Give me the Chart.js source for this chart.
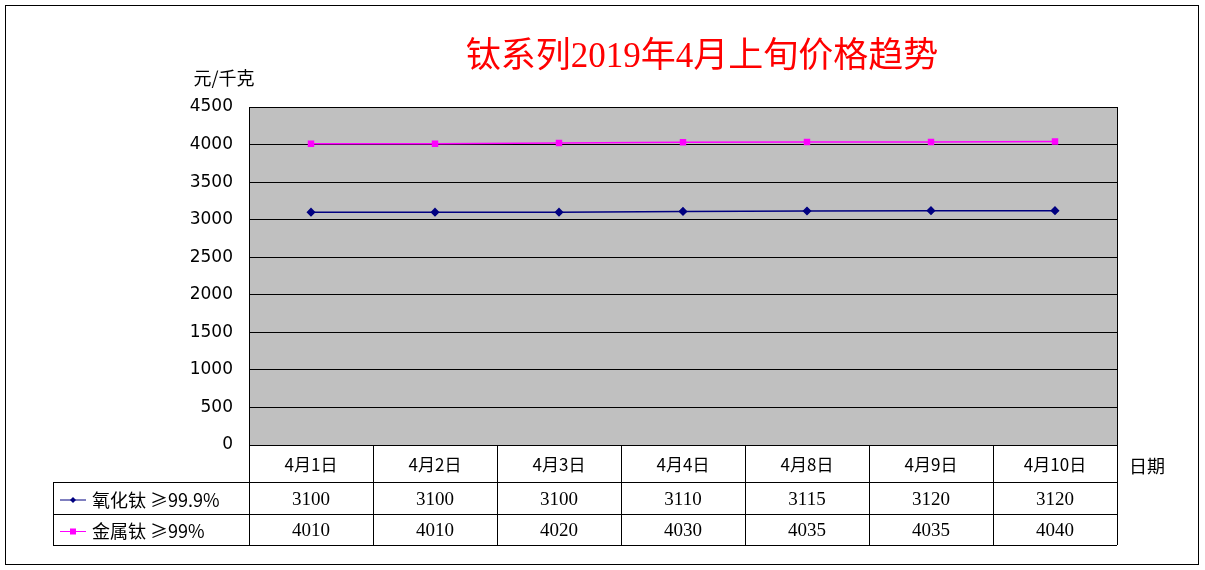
<!DOCTYPE html>
<html>
<head>
<meta charset="utf-8">
<script src="https://cdn.jsdelivr.net/npm/chart.js@4"></script>
<style>
  body { margin: 0; background: #fff; }
  #wrap { width: 1205px; height: 570px; position: relative; }
</style>
</head>
<body>
<div id="wrap"><canvas id="chart" width="1205" height="570"></canvas></div>
<script>
// data
var categories = ['4月1日', '4月2日', '4月3日', '4月4日', '4月8日', '4月9日', '4月10日']
var seriesNames = ['氧化钛 ≥99.9%', '金属钛 ≥99%']
var oxideValues = [3100, 3100, 3100, 3110, 3115, 3120, 3120]
var metalValues = [4010, 4010, 4020, 4030, 4035, 4035, 4040]
var seriesColors = ['#000080', '#FF00FF']

var tableFont = '19px "Liberation Serif", serif'

// draws background, frame, title and the data table
var decor = {
  id: 'decor',
  beforeDraw: function (chart) {
    var ctx = chart.ctx, a = chart.chartArea
    ctx.save()
    ctx.fillStyle = '#fff'
    ctx.fillRect(0, 0, chart.width, chart.height)
    ctx.fillStyle = '#C0C0C0'
    ctx.fillRect(a.left, a.top, a.right - a.left, a.bottom - a.top)
    ctx.restore()
  },
  afterDraw: function (chart) {
    var ctx = chart.ctx, a = chart.chartArea, x = chart.scales.x
    ctx.save()
    ctx.strokeStyle = '#000'
    ctx.lineWidth = 1
    ctx.strokeRect(5.5, 5.5, 1193, 559)
    ctx.strokeRect(a.left + 0.5, a.top + 0.5, a.right - a.left, a.bottom - a.top)

    // title
    ctx.fillStyle = '#FF0000'
    ctx.font = '35px "Liberation Serif", "Noto Sans CJK SC", serif'
    ctx.textAlign = 'center'
    ctx.textBaseline = 'middle'
    ctx.fillText('钛系列2019年4月上旬价格趋势', 702, 58)

    ctx.fillStyle = '#000'
    ctx.font = '18px "Noto Sans CJK SC", sans-serif'
    ctx.fillText('元/千克', 224, 78)
    ctx.fillText('日期', 1147, 466)

    // table grid
    var rows = [a.bottom, 482, 514, 545]
    var left = 53
    var step = (a.right - a.left) / categories.length
    ctx.beginPath()
    for (var r = 1; r < rows.length; r++) {
      ctx.moveTo(left, rows[r] + 0.5); ctx.lineTo(a.right, rows[r] + 0.5)
    }
    ctx.moveTo(left + 0.5, rows[1]); ctx.lineTo(left + 0.5, rows[3])
    for (var i = 0; i <= categories.length; i++) {
      var gx = Math.round(a.left + i * step) + 0.5
      ctx.moveTo(gx, rows[0]); ctx.lineTo(gx, rows[3])
    }
    ctx.stroke()

    var series = [oxideValues, metalValues]
    ctx.font = '17px "Noto Sans CJK SC", sans-serif'
    categories.forEach(function (c, i) {
      ctx.fillText(c, x.getPixelForValue(i), (rows[0] + rows[1]) / 2 + 1)
    })
    ctx.font = tableFont
    series.forEach(function (vals, s) {
      var cy = (rows[s + 1] + rows[s + 2]) / 2 + 2
      vals.forEach(function (v, i) {
        ctx.fillText(String(v), x.getPixelForValue(i), cy)
      })
      // legend key
      ctx.strokeStyle = seriesColors[s]
      ctx.fillStyle = seriesColors[s]
      ctx.beginPath(); ctx.moveTo(60, cy); ctx.lineTo(86, cy); ctx.stroke()
      if (s === 0) {
        ctx.beginPath(); ctx.moveTo(73, cy - 3); ctx.lineTo(76, cy); ctx.lineTo(73, cy + 3); ctx.lineTo(70, cy); ctx.closePath(); ctx.fill()
      } else {
        ctx.fillRect(70, cy - 3, 6, 6)
      }
      ctx.fillStyle = '#000'
      ctx.textAlign = 'left'
      ctx.font = '18px "Noto Sans CJK SC", sans-serif'
      ctx.fillText(seriesNames[s], 92, cy)
      ctx.textAlign = 'center'
      ctx.font = tableFont
    })
    ctx.restore()
  }
}

new Chart(document.getElementById('chart').getContext('2d'), {
  type: 'line',
  data: {
    labels: categories,
    datasets: [{
      label: seriesNames[0],
      data: oxideValues,
      borderColor: seriesColors[0],
      backgroundColor: seriesColors[0],
      borderWidth: 1.5,
      pointStyle: 'rectRot',
      pointRadius: 3.5
    }, {
      label: seriesNames[1],
      data: metalValues,
      borderColor: seriesColors[1],
      backgroundColor: seriesColors[1],
      borderWidth: 1.5,
      pointStyle: 'rect',
      pointRadius: 3.5
    }]
  },
  options: {
    responsive: false,
    animation: false,
    layout: { padding: { left: 180, right: 88, top: 107, bottom: 125 } },
    plugins: { legend: { display: false }, title: { display: false }, tooltip: { enabled: false } },
    scales: {
      x: { display: false, offset: true },
      y: {
        min: 0, max: 4500,
        ticks: {
          stepSize: 500, color: '#000', padding: 16,
          font: { family: '"DejaVu Sans", sans-serif', size: 17 },
          callback: function (v) { return String(v) }
        },
        grid: { color: '#000', drawTicks: false },
        border: { display: false },
        afterFit: function (scale) { scale.width = 69 }
      }
    }
  },
  plugins: [decor]
})
</script>
</body>
</html>
